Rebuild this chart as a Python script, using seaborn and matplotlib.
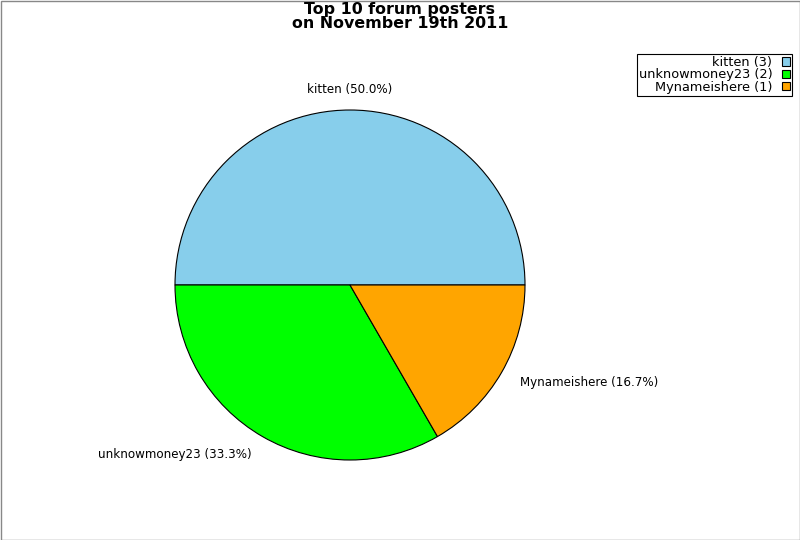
import matplotlib
matplotlib.use("Agg")
import matplotlib.pyplot as plt
from matplotlib.patches import Rectangle, Patch
import seaborn as sns

# data
posters = ["kitten", "unknowmoney23", "Mynameishere"]
post_counts = [3, 2, 1]
slice_colors = ["#87CEEB", "#00FF00", "#FFA500"]

sns.set_style("white")
plt.rcParams['font.family'] = ['DejaVu Sans']
plt.rcParams['text.color'] = 'black'

fig = plt.figure(figsize=(8, 5.4), dpi=100)
# pie axes: centre (350, 285) px, radius 175 px
ax = fig.add_axes([175 / 800, (540 - 285 - 175) / 540, 350 / 800, 350 / 540])

total = sum(post_counts)
labels = [f"{n} ({c / total * 100:.1f}%)" for n, c in zip(posters, post_counts)]
wedges, texts = ax.pie(post_counts, labels=labels, colors=sns.color_palette(slice_colors),
                       startangle=0, counterclock=True, labeldistance=1.12,
                       wedgeprops={"edgecolor": "black", "linewidth": 0.8},
                       textprops={"fontsize": 8.6, "color": "black"})
texts[0].set_horizontalalignment("center")
ax.set_xlim(-1, 1)
ax.set_ylim(-1, 1)
ax.set_aspect("equal")

fig.suptitle("Top 10 forum posters\non November 19th 2011", fontsize=11.4, fontweight="bold",
             color="black", y=1 - 2 / 540, va="top", linespacing=0.88)

handles = [Patch(facecolor=c, edgecolor="black", linewidth=0.8) for c in slice_colors]
leg_labels = [f"{n} ({c})" for n, c in zip(posters, post_counts)]
leg = fig.legend(handles, leg_labels, loc="upper right", bbox_to_anchor=(792 / 800, 1 - 54 / 540),
                 markerfirst=False, fancybox=False, fontsize=9.3, borderaxespad=0,
                 handlelength=0.62, handleheight=0.62, handletextpad=0.75, labelspacing=-0.05,
                 borderpad=0.15, framealpha=1)
leg.get_frame().set_edgecolor("black")
leg.get_frame().set_linewidth(0.8)
for t in leg.get_texts():
    t.set_ha("right")
    t.set_color("black")

# gray border around the whole image
fig.patches.append(Rectangle((0.5 / 800, 0.5 / 540), 799 / 800, 539 / 540, transform=fig.transFigure,
                             fill=False, edgecolor="#888888", linewidth=1))

fig.savefig("out.png", dpi=100)
